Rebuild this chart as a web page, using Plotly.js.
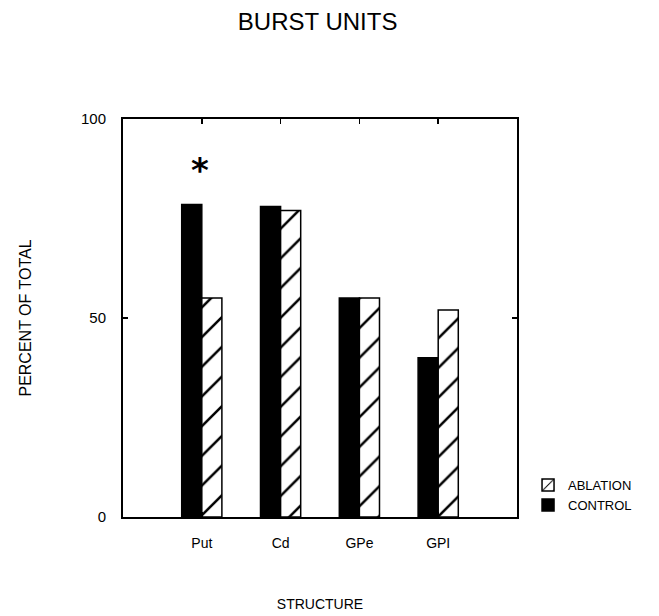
<!DOCTYPE html>
<html>
<head>
<meta charset="utf-8">
<script src="https://cdn.plot.ly/plotly-3.0.1.min.js"></script>
<style>
  html, body { margin: 0; padding: 0; background: #fff; }
  #chart { width: 659px; height: 616px; }
</style>
</head>
<body>
<div id="chart"></div>
<script>
// Share of burst-firing units per basal ganglia structure
const structures = ['Put', 'Cd', 'GPe', 'GPI'];
const controlPct = [78.5, 78, 55, 40];
const ablationPct = [55, 77, 55, 52];
const yTicks = [0, 50, 100];
// Significant difference marker (control vs ablation)
const significantAt = 'Put';
const significantY = 87.2;
const significanceMark = '<b>*</b>';

const FONT = 'Liberation Sans, Arial, sans-serif';

const control = {
  type: 'bar',
  name: 'CONTROL',
  x: structures,
  y: controlPct,
  marker: { color: '#000', line: { color: '#000', width: 1.5 } },
  hoverinfo: 'x+y+name'
};

const ablation = {
  type: 'bar',
  name: 'ABLATION',
  x: structures,
  y: ablationPct,
  marker: {
    color: '#fff',
    line: { color: '#000', width: 1.5 },
    pattern: { shape: '/', bgcolor: '#fff', fgcolor: '#000', size: 21, solidity: 0.12 }
  },
  hoverinfo: 'x+y+name'
};

const layout = {
  width: 659,
  height: 616,
  margin: { l: 123, r: 142, t: 119, b: 99 },
  paper_bgcolor: '#fff',
  plot_bgcolor: '#fff',
  font: { family: FONT, color: '#000', size: 14 },
  title: {
    text: 'BURST UNITS',
    font: { family: FONT, size: 24, color: '#000' },
    x: 0.482, xanchor: 'center',
    y: 0.965, yanchor: 'middle'
  },
  barmode: 'group',
  bargap: 0.49,
  bargroupgap: 0,
  showlegend: true,
  legend: {
    traceorder: 'reversed',
    x: 1.028, xanchor: 'left',
    y: 0.055, yanchor: 'middle',
    font: { family: FONT, size: 13, color: '#000' },
    bgcolor: 'rgba(0,0,0,0)',
    itemwidth: 30,
    tracegroupgap: 0
  },
  xaxis: {
    type: 'category',
    range: [-1, 4],
    showline: true, linecolor: '#000', linewidth: 2,
    mirror: 'ticks',
    ticks: 'inside', ticklen: 5, tickwidth: 1.5, tickcolor: '#000',
    showgrid: false, zeroline: false,
    tickfont: { family: FONT, size: 14, color: '#000' },
    ticklabelstandoff: 12,
    title: { text: 'STRUCTURE', font: { family: FONT, size: 14, color: '#000' }, standoff: 49 },
    fixedrange: true
  },
  yaxis: {
    range: [0, 100],
    tickvals: yTicks,
    ticktext: yTicks.map(String),
    showline: true, linecolor: '#000', linewidth: 2,
    mirror: 'ticks',
    ticks: 'inside', ticklen: 5, tickwidth: 1.5, tickcolor: '#000',
    showgrid: false, zeroline: false,
    tickfont: { family: FONT, size: 15, color: '#000' },
    ticklabelstandoff: 12,
    title: { text: 'PERCENT OF TOTAL', font: { family: FONT, size: 16, color: '#000' }, standoff: 45 },
    fixedrange: true
  },
  annotations: [{
    x: significantAt, y: significantY,
    xref: 'x', yref: 'y',
    xshift: -2,
    text: significanceMark,
    showarrow: false,
    font: { family: 'DejaVu Sans, sans-serif', size: 34, color: '#000' },
    xanchor: 'center', yanchor: 'middle'
  }]
};

Plotly.newPlot('chart', [control, ablation], layout, { displayModeBar: false, staticPlot: true });
</script>
</body>
</html>
